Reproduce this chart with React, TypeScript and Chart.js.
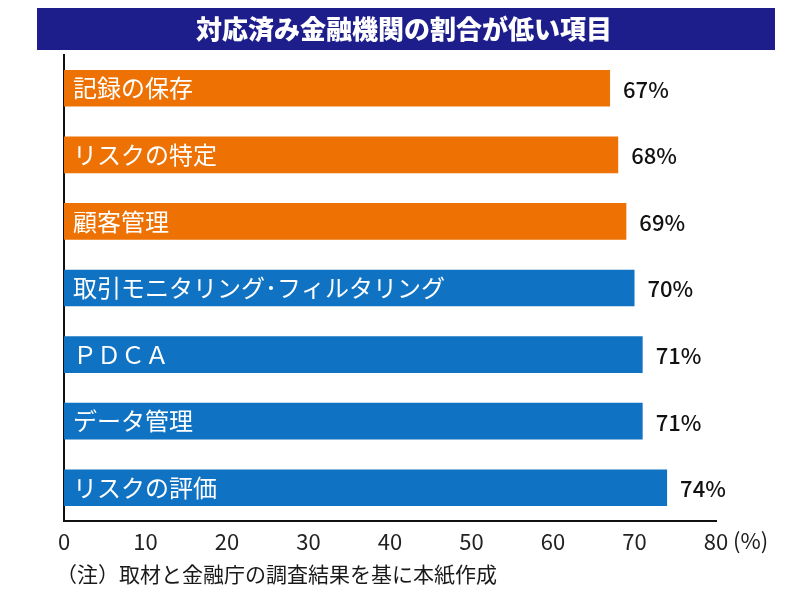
import React, { useEffect, useRef } from "react";
import { Chart, registerables } from "chart.js";

Chart.register(...registerables);

const titleText = "対応済み金融機関の割合が低い項目";
const noteText = "（注）取材と金融庁の調査結果を基に本紙作成";
const categories = [
  "記録の保存",
  "リスクの特定",
  "顧客管理",
  "取引モニタリング･フィルタリング",
  "ＰＤＣＡ",
  "データ管理",
  "リスクの評価",
];
const values = [67, 68, 69, 70, 71, 71, 74];
const barColors = ["#ee7203", "#ee7203", "#ee7203", "#0f72c2", "#0f72c2", "#0f72c2", "#0f72c2"];
const xTicks = [0, 10, 20, 30, 40, 50, 60, 70, 80];
const unitLabel = "(%)";

const FONT = '"Noto Sans CJK JP", "Noto Sans", sans-serif';

const decorPlugin = {
  id: "decor",
  beforeDraw(chart: any) {
    const ctx = chart.ctx;
    ctx.save();
    ctx.fillStyle = "#ffffff";
    ctx.fillRect(0, 0, chart.width, chart.height);
    // title bar
    ctx.fillStyle = "#1d1e8c";
    ctx.fillRect(37, 8, 738, 42);
    ctx.fillStyle = "#ffffff";
    ctx.font = `900 26px ${FONT}`;
    ctx.textAlign = "center";
    ctx.textBaseline = "middle";
    ctx.fillText(titleText, 404, 29);
    ctx.restore();
  },
  afterDatasetsDraw(chart: any) {
    const ctx = chart.ctx;
    const meta = chart.getDatasetMeta(0);
    ctx.save();
    meta.data.forEach((bar: any, i: number) => {
      ctx.font = `24px ${FONT}`;
      ctx.textBaseline = "middle";
      ctx.textAlign = "left";
      ctx.fillStyle = "#ffffff";
      ctx.fillText(categories[i], chart.chartArea.left + 9, bar.y);
      ctx.fillStyle = "#111111";
      ctx.font = `500 22px ${FONT}`;
      ctx.fillText(values[i] + "%", bar.x + 13, bar.y + 1);
    });
    // unit label
    const xs = chart.scales.x;
    ctx.font = `22px ${FONT}`;
    ctx.fillStyle = "#1a1a1a";
    ctx.textAlign = "left";
    ctx.fillText(unitLabel, xs.getPixelForValue(80) + 17, 541);
    // footnote
    ctx.font = `21px ${FONT}`;
    ctx.fillText(noteText, 56, 574);
    ctx.restore();
  },
};

export default function App() {
  const ref = useRef<HTMLCanvasElement>(null);
  useEffect(() => {
    const chart = new Chart(ref.current!, {
      type: "bar",
      data: {
        labels: categories,
        datasets: [
          {
            data: values,
            backgroundColor: barColors,
            barPercentage: 0.55,
            categoryPercentage: 1,
          },
        ],
      },
      options: {
        indexAxis: "y",
        animation: false,
        responsive: false,
        events: [],
        layout: { padding: { left: 64, right: 84, top: 55, bottom: 33 } },
        plugins: { legend: { display: false }, tooltip: { enabled: false }, title: { display: false } },
        scales: {
          x: {
            min: 0,
            max: 80,
            afterFit: (s: any) => {
              s.height = 40;
            },
            afterBuildTicks: (s: any) => {
              s.ticks = xTicks.map((v) => ({ value: v }));
            },
            grid: { display: false, drawTicks: false },
            border: { display: true, color: "#111", width: 2 },
            ticks: {
              padding: 7,
              color: "#222",
              font: { family: FONT, size: 22 },
              maxRotation: 0,
              autoSkip: false,
            },
          },
          y: {
            afterFit: (s: any) => {
              s.width = 0;
            },
            grid: { display: false, drawTicks: false },
            border: { display: true, color: "#111", width: 2 },
            ticks: { display: false },
          },
        },
      },
      plugins: [decorPlugin],
    });
    return () => chart.destroy();
  }, []);
  return (
    <div style={{ position: "fixed", left: 0, top: 0, width: 800, height: 594, background: "#fff" }}>
      <canvas ref={ref} width={800} height={594} style={{ width: 800, height: 594 }} />
    </div>
  );
}
